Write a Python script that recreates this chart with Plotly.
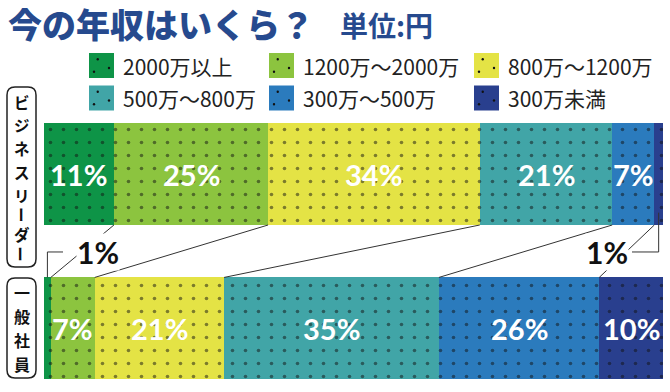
import plotly.graph_objects as go

# ---------------- data ----------------
categories = ["ビジネスリーダー", "一般社員"]
brackets = ["2000万以上", "1200万～2000万", "800万～1200万",
            "500万～800万", "300万～500万", "300万未満"]
leader_values = [11.3, 24.9, 34.2, 21.4, 6.8, 1.4]
staff_values = [1.1, 7.1, 20.9, 34.7, 25.9, 10.3]
leader_labels = ["11%", "25%", "34%", "21%", "7%", "1%"]
staff_labels = ["1%", "7%", "21%", "35%", "26%", "10%"]
colors = ["#0e9447", "#8cc43f", "#e4e345", "#41a5a7", "#2b7bbd", "#293f8e"]
title_text = "今の年収はいくら？"
unit_text = "単位:円"

# ---------------- geometry helpers ----------------
W, H = 670, 392
L, R, T, B = 44, 7, 97, 2
PW, PH = W - L - R, H - T - B
BAR_W = 0.66
JP = "Noto Sans CJK JP"
NUM = "Lato"


def px_x(p):
    return (p - L) / PW


def px_y(p):
    return (H - B - p) / PH


fig = go.Figure()
for i, name in enumerate(brackets):
    fig.add_trace(go.Bar(
        y=categories, x=[leader_values[i], staff_values[i]], orientation="h",
        name=name, width=BAR_W, showlegend=False, hoverinfo="skip",
        marker=dict(color=colors[i], line=dict(width=0),
                    pattern=dict(shape=".", fgcolor="#111111", bgcolor=colors[i],
                                 size=13, solidity=0.06)),
    ))

annotations = []
shapes = []

# inside percentage labels
y_top, y_bot = 1, 0
for vals, labs, yc in [(leader_values, leader_labels, y_top), (staff_values, staff_labels, y_bot)]:
    start = 0
    for v, lab in zip(vals, labs):
        if v >= 3:
            annotations.append(dict(x=start + v / 2, y=yc, xref="x", yref="y", text=lab,
                                    showarrow=False, font=dict(family=NUM, size=29, color="white", weight="bold")))
        start += v

# connecting lines between boundaries
cum_top, cum_bot = [], []
s1 = s2 = 0
for a, b in zip(leader_values, staff_values):
    s1 += a
    s2 += b
    cum_top.append(s1)
    cum_bot.append(s2)
top_edge = y_top - BAR_W / 2
bot_edge = y_bot + BAR_W / 2
for j in range(5):
    shapes.append(dict(type="line", xref="x", yref="y", x0=cum_top[j], y0=top_edge,
                       x1=cum_bot[j], y1=bot_edge, line=dict(color="#333333", width=1)))

# callouts for small segments
mid_y = 0.495
cx = staff_values[0] / 2
hx = (63 - L) / PW * 100
shapes.append(dict(type="line", xref="x", yref="y", x0=cx, y0=bot_edge, x1=cx, y1=mid_y,
                   line=dict(color="#333333", width=1)))
shapes.append(dict(type="line", xref="x", yref="y", x0=cx, y0=mid_y, x1=hx, y1=mid_y,
                   line=dict(color="#333333", width=1)))
annotations.append(dict(x=(98 - L) / PW * 100, y=mid_y, xref="x", yref="y", text=staff_labels[0],
                        showarrow=False, bgcolor="white", borderpad=0,
                        font=dict(family=NUM, size=30, color="#111111", weight="bold")))
cx = 100 - leader_values[5] / 2
hx = (632 - L) / PW * 100
shapes.append(dict(type="line", xref="x", yref="y", x0=cx, y0=0.75, x1=cx, y1=mid_y,
                   line=dict(color="#333333", width=1)))
shapes.append(dict(type="line", xref="x", yref="y", x0=cx, y0=mid_y, x1=hx, y1=mid_y,
                   line=dict(color="#333333", width=1)))
annotations.append(dict(x=(607 - L) / PW * 100, y=mid_y, xref="x", yref="y", text=leader_labels[5],
                        showarrow=False, bgcolor="white", borderpad=0,
                        font=dict(family=NUM, size=30, color="#111111", weight="bold")))


# vertical category labels in rounded boxes
def rounded_box(x0, y0, x1, y1, r=8):
    ax0, ax1 = px_x(x0), px_x(x1)
    ay0, ay1 = px_y(y0), px_y(y1)
    rx, ry = r / PW, r / PH
    path = (f"M {ax0 + rx},{ay0} L {ax1 - rx},{ay0} Q {ax1},{ay0} {ax1},{ay0 - ry} "
            f"L {ax1},{ay1 + ry} Q {ax1},{ay1} {ax1 - rx},{ay1} L {ax0 + rx},{ay1} "
            f"Q {ax0},{ay1} {ax0},{ay1 + ry} L {ax0},{ay0 - ry} Q {ax0},{ay0} {ax0 + rx},{ay0} Z")
    return dict(type="path", xref="paper", yref="paper", path=path,
                line=dict(color="#222222", width=1.5), fillcolor="white", layer="above")


shapes.append(rounded_box(7, 87, 36, 267))
shapes.append(rounded_box(7, 278, 36, 378))


def vertical_text(text, xc, y_center, size, gap=0.6):
    """One annotation per character, stacked so their boxes do not overlap;
    the long-vowel mark is rotated as in vertical Japanese writing."""
    heights = [size * (1.0 if ch == "ー" else 1.46) for ch in text]
    total = sum(heights) + gap * (len(text) - 1)
    y = y_center - total / 2
    for ch, h in zip(text, heights):
        yc = y + h / 2
        annotations.append(dict(x=px_x(xc), y=px_y(yc), xref="paper", yref="paper",
                                text=ch, showarrow=False,
                                xanchor="center", yanchor="middle",
                                textangle=90 if ch == "ー" else 0,
                                font=dict(family=JP, size=size, color="#111111", weight="bold")))
        y += h + gap


vertical_text(categories[0], 21.5, 176, 15.5)
vertical_text(categories[1], 21.5, 328, 16)

# title
annotations.append(dict(x=px_x(6), y=px_y(23), xref="paper", yref="paper", text=title_text,
                        showarrow=False, xanchor="left", yanchor="middle",
                        font=dict(family=JP, size=34, color="#264a8e", weight=900)))
annotations.append(dict(x=px_x(338), y=px_y(25), xref="paper", yref="paper", text=unit_text,
                        showarrow=False, xanchor="left", yanchor="middle",
                        font=dict(family=JP, size=28, color="#264a8e", weight="bold")))

# legend
col_x = [89, 269, 474]
row_y = [65.5, 98]
dot_offsets = [(0.35, 0.25), (0.2, 0.75), (0.8, 0.6)]
for i, name in enumerate(brackets):
    r, c = divmod(i, 3)
    x0, yc = col_x[c], row_y[r]
    shapes.append(dict(type="rect", xref="paper", yref="paper", x0=px_x(x0), x1=px_x(x0 + 25),
                       y0=px_y(yc - 12.5), y1=px_y(yc + 12.5), fillcolor=colors[i], line=dict(width=0)))
    for fx, fy in dot_offsets:
        dx, dy = x0 + fx * 25, yc - 12.5 + fy * 25
        shapes.append(dict(type="circle", xref="paper", yref="paper", x0=px_x(dx - 1.2), x1=px_x(dx + 1.2),
                           y0=px_y(dy - 1.2), y1=px_y(dy + 1.2), fillcolor="#111111", line=dict(width=0)))
    annotations.append(dict(x=px_x(x0 + 32), y=px_y(yc), xref="paper", yref="paper", text=name,
                            showarrow=False, xanchor="left", yanchor="middle",
                            font=dict(family=JP, size=21, color="#222222")))

fig.update_layout(
    width=W, height=H, barmode="stack", bargap=0,
    margin=dict(l=L, r=R, t=T, b=B, autoexpand=False),
    paper_bgcolor="white", plot_bgcolor="white",
    xaxis=dict(range=[0, 100], visible=False, fixedrange=True),
    yaxis=dict(type="category", categoryorder="array", categoryarray=[categories[1], categories[0]],
               range=[-0.4, 1.5], visible=False, fixedrange=True),
    shapes=shapes, annotations=annotations,
)

fig.write_html("out.html", config={"displayModeBar": False})
